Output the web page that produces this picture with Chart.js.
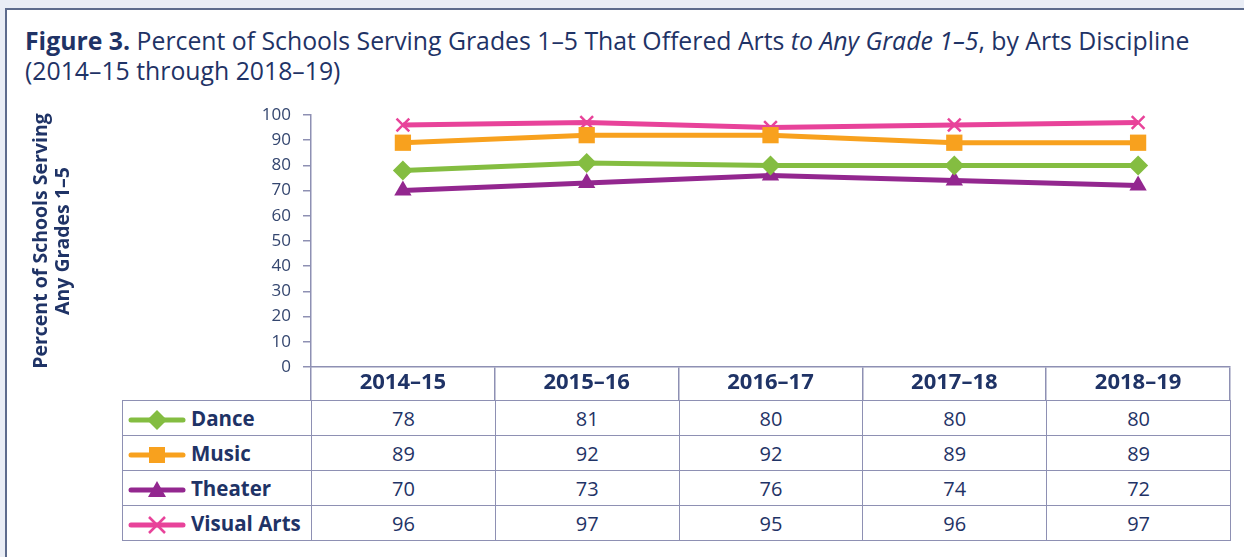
<!DOCTYPE html>
<html>
<head>
<meta charset="utf-8">
<script src="https://cdn.jsdelivr.net/npm/chart.js@4.4.1/dist/chart.umd.min.js"></script>
<style>
  body { margin: 0; width: 1244px; height: 557px; overflow: hidden; background: #e9edf5; font-family: 'Open Sans', sans-serif; position: relative; }
  #panel { position: absolute; left: 5px; top: 8px; width: 1260px; height: 580px; background: #fff; border: 2px solid #5d6b8c; box-sizing: border-box; }
  #title { position: absolute; left: 25px; top: 25px; font-size: 24.8px; line-height: 30px; color: #1f3366; white-space: nowrap; }
  #chart { position: absolute; left: 0; top: 0; }
  #tbl { position: absolute; top: 400px; border-collapse: collapse; table-layout: fixed; color: #1f3366; font-size: 20px; }
  #tbl td { border: 1.5px solid #8e90b3; height: 34px; padding: 0; text-align: center; }
  #tbl td.lbl { text-align: left; font-weight: bold; font-size: 20.5px; white-space: nowrap; }
  #tbl svg { vertical-align: middle; margin: 0 4px 0 4px; }
</style>
</head>
<body>
<div id="panel"></div>
<div id="title"><b>Figure 3.</b> Percent of Schools Serving Grades 1–5 That Offered Arts <i>to Any Grade 1–5</i>, by Arts Discipline<br>(2014–15 through 2018–19)</div>
<canvas id="chart" width="1244" height="400"></canvas>
<table id="tbl"></table>
<script>
const years = ['2014–15', '2015–16', '2016–17', '2017–18', '2018–19'];
const dance = [78, 81, 80, 80, 80];
const music = [89, 92, 92, 89, 89];
const theater = [70, 73, 76, 74, 72];
const visualArts = [96, 97, 95, 96, 97];
const yTicks = [0, 10, 20, 30, 40, 50, 60, 70, 80, 90, 100];

const navy = '#1f3366';
const axisCol = '#8e90b3';
const green = '#84bd41', orange = '#f8a11e', purple = '#93278f', pink = '#e8439a';
const font = 'Open Sans';

const series = [
    { label: 'Dance', data: dance, color: green, style: 'rectRot', radius: 10 },
    { label: 'Music', data: music, color: orange, style: 'rect', radius: 11.5 },
    { label: 'Theater', data: theater, color: purple, style: 'triangle', radius: 10 },
    { label: 'Visual Arts', data: visualArts, color: pink, style: 'crossRot', radius: 9 }
];

const chart = new Chart(document.getElementById('chart'), {
    type: 'line',
    data: {
        labels: years,
        datasets: series.map(s => ({
            label: s.label,
            data: s.data,
            borderColor: s.color,
            backgroundColor: s.color,
            borderWidth: 5,
            pointStyle: s.style,
            pointRadius: s.radius,
            pointBorderWidth: s.style === 'crossRot' ? 2.5 : 0,
            pointBorderColor: s.color,
            pointBackgroundColor: s.color,
            tension: 0,
            clip: false
        }))
    },
    options: {
        responsive: false,
        animation: false,
        layout: { padding: { top: 115, right: 14, left: 0, bottom: 0 } },
        plugins: { legend: { display: false }, tooltip: { enabled: false } },
        scales: {
            x: {
                offset: true,
                grid: { offset: true, drawOnChartArea: false, tickLength: 33, color: axisCol, lineWidth: 1.5 },
                border: { color: axisCol, width: 1.5 },
                ticks: { padding: -30, color: navy, font: { family: font, size: 22, weight: 'bold' } },
                afterFit: s => { s.height = 33; }
            },
            y: {
                min: 0, max: 100,
                afterBuildTicks: s => { s.ticks = yTicks.map(v => ({ value: v })); },
                ticks: { padding: 12, color: '#34466f', font: { family: font, size: 17 } },
                grid: { drawOnChartArea: false, tickLength: 8, color: axisCol, lineWidth: 1.5 },
                border: { color: axisCol, width: 1.5 },
                title: {
                    display: true,
                    text: ['Percent of Schools Serving', 'Any Grades 1–5'],
                    color: navy,
                    font: { family: font, size: 19.5, weight: 'bold', lineHeight: 1.15 },
                    padding: { top: 30 }
                },
                afterFit: s => { s.width = 311; }
            }
        }
    }
});

// legend swatches
function swatch(s) {
    const c = s.color;
    let mark = '';
    if (s.style === 'rectRot') mark = `<polygon points="30,2 40,12 30,22 20,12" fill="${c}"/>`;
    if (s.style === 'rect') mark = `<rect x="22" y="4" width="16" height="16" fill="${c}"/>`;
    if (s.style === 'triangle') mark = `<polygon points="30,3 39,19 21,19" fill="${c}"/>`;
    if (s.style === 'crossRot') mark = `<path d="M22,4 L38,20 M38,4 L22,20" stroke="${c}" stroke-width="2.5"/>`;
    return `<svg width="60" height="24"><line x1="4" y1="12" x2="56" y2="12" stroke="${c}" stroke-width="5" stroke-linecap="round"/>${mark}</svg>`;
}

// data table under the x axis, columns follow the x scale
const xs = chart.scales.x;
const tblLeft = 122;
const colW = (xs.right - xs.left) / years.length;
const tbl = document.getElementById('tbl');
tbl.style.left = tblLeft + 'px';
tbl.style.width = (xs.right - tblLeft) + 'px';
let html = `<colgroup><col style="width:${xs.left - tblLeft}px">` + years.map(() => `<col style="width:${colW}px">`).join('') + '</colgroup>';
series.forEach(s => {
    html += `<tr><td class="lbl">${swatch(s)}${s.label}</td>` + s.data.map(v => `<td>${v}</td>`).join('') + '</tr>';
});
tbl.innerHTML = html;
</script>
</body>
</html>
